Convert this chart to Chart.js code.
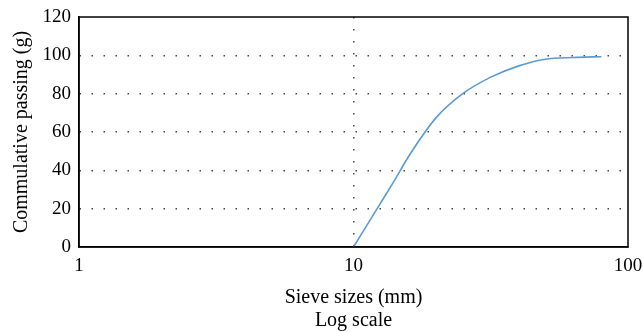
<!DOCTYPE html>
<html>
<head>
<meta charset="utf-8">
<script src="https://cdn.jsdelivr.net/npm/chart.js@4/dist/chart.umd.min.js"></script>
<style>
  html, body { margin: 0; padding: 0; background: #fff; }
  #wrap { width: 643px; height: 332px; position: relative; }
</style>
</head>
<body>
<div id="wrap"><canvas id="c" width="643" height="332"></canvas></div>
<script>
const sieveSizes = [10, 12.5, 14, 16, 20, 25, 31.5, 40, 50, 63, 80];
const passing    = [0, 22.5, 34, 48, 67.5, 80, 88.5, 94.5, 98, 98.9, 99.3];
const xTicks = [1, 10, 100];
const yTicks = [0, 20, 40, 60, 80, 100, 120];

const FONT = "'Liberation Serif', 'DejaVu Serif', serif";

const boxPlugin = {
  id: 'box',
  afterDraw(chart) {
    const {ctx, chartArea: a} = chart;
    ctx.save();
    ctx.strokeStyle = '#000';
    ctx.lineWidth = 1.5;
    ctx.strokeRect(a.left, a.top, a.right - a.left, a.bottom - a.top);
    ctx.restore();
  }
};

new Chart(document.getElementById('c'), {
  type: 'scatter',
  data: {
    datasets: [{
      data: sieveSizes.map((x, i) => ({x: x, y: passing[i]})),
      showLine: true,
      borderColor: '#5b9bd5',
      borderWidth: 1.6,
      pointRadius: 0,
      cubicInterpolationMode: 'monotone',
      fill: false
    }]
  },
  options: {
    responsive: false,
    animation: false,
    layout: { padding: { left: 0, right: 15, top: 17, bottom: 0 } },
    plugins: { legend: { display: false }, tooltip: { enabled: false } },
    scales: {
      x: {
        type: 'logarithmic',
        min: 1, max: 100,
        afterBuildTicks: s => { s.ticks = xTicks.map(v => ({value: v})); },
        afterFit: s => { s.height = 85; s.paddingLeft = 0; s.paddingRight = 0; },
        ticks: {
          color: '#000',
          font: { family: FONT, size: 19 },
          padding: 8,
          maxRotation: 0,
          callback: v => String(v)
        },
        grid: {
          drawTicks: false,
          color: ctx => (ctx.tick && ctx.tick.value === 10) ? '#444' : 'rgba(0,0,0,0)',
          lineWidth: 1.5
        },
        border: { display: true, color: '#000', width: 1.5, dash: [1.5, 10.5] },
        title: {
          display: true,
          text: ['Sieve sizes (mm)', 'Log scale'],
          color: '#000',
          font: { family: FONT, size: 20, lineHeight: 1.15 },
          padding: { top: 3, bottom: 0 }
        }
      },
      y: {
        min: 0, max: 120,
        afterBuildTicks: s => { s.ticks = yTicks.map(v => ({value: v})); },
        afterFit: s => { s.width = 79; s.paddingTop = 0; s.paddingBottom = 0; },
        ticks: {
          color: '#000',
          font: { family: FONT, size: 19 },
          padding: 8
        },
        grid: {
          drawTicks: false,
          color: ctx => (ctx.tick && ctx.tick.value > 0 && ctx.tick.value < 120) ? '#444' : 'rgba(0,0,0,0)',
          lineWidth: 1.5
        },
        border: { display: true, color: '#000', width: 1.5, dash: [1.5, 10.5] },
        title: {
          display: true,
          text: 'Commulative passing (g)',
          color: '#000',
          font: { family: FONT, size: 20 },
          padding: { top: 10, bottom: 4 }
        }
      }
    }
  },
  plugins: [boxPlugin]
});
</script>
</body>
</html>
